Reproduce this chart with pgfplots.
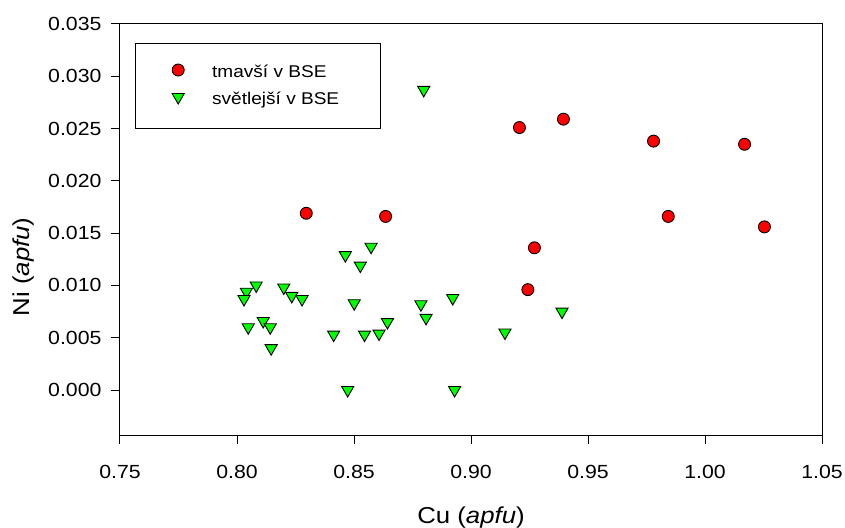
\documentclass[border=0pt]{standalone}
\usepackage{fontspec}
\setmainfont{Liberation Sans}[FakeStretch=1.12]
\usepackage{pgfplots}
\pgfplotsset{compat=1.18}
\definecolor{myred}{RGB}{255,0,0}
\definecolor{mygreen}{RGB}{0,255,0}
\pgfplotsset{mylegimg/.style={legend image code/.code={\path[draw=none,fill=none] (0pt,-1pt) rectangle (77pt,1pt); \draw[##1] plot coordinates {(43pt,2.5pt)};}}}
\begin{document}
\begin{tikzpicture}
\begin{axis}[
  at={(0pt,0pt)}, anchor=south west,
  scale only axis, width=702pt, height=411pt,
  xmin=0.75, xmax=1.05, ymin=-0.0043, ymax=0.035,
  xtick={0.75,0.80,0.85,0.90,0.95,1.00,1.05},
  ytick={0,0.005,0.010,0.015,0.020,0.025,0.030,0.035},
  scaled x ticks=false, scaled y ticks=false,
  xtick pos=bottom, ytick pos=left,
  tick align=outside, major tick length=9pt,
  axis line style={line width=1pt, black},
  every tick/.style={line width=1pt, black},
  /pgf/number format/assume math mode=true,
  tick label style={font=\fontsize{19}{21}\selectfont},
  xticklabel style={/pgf/number format/fixed, /pgf/number format/fixed zerofill, /pgf/number format/precision=2, yshift=-18pt},
  yticklabel style={/pgf/number format/fixed, /pgf/number format/fixed zerofill, /pgf/number format/precision=3, xshift=-6pt},
  every axis x label/.style={at={(axis description cs:0.5,-0.2)}, anchor=center, font=\fontsize{23}{26}\selectfont},
  every axis y label/.style={at={(axis description cs:-0.138,0.409)}, anchor=center, rotate=90, font=\fontsize{23}{26}\selectfont},
  xlabel={Cu (\textit{apfu})},
  ylabel={Ni (\textit{apfu})},
  legend style={at={(axis description cs:0.02137,0.8491)}, anchor=west, draw=none, fill=none, inner sep=0pt, row sep=10pt,
    nodes={inner sep=0pt, text height=13pt, text depth=4pt, font=\fontsize{17}{20}\selectfont}},
  legend cell align=left,
]
\addplot[only marks, mark=*, mark size=6pt, mark options={fill=myred, draw=black, line width=0.9pt}, mylegimg]
coordinates {
(0.8296,0.0169) (0.8635,0.0166) (0.9207,0.0251) (0.9395,0.0259) (0.9780,0.0238)
(1.0169,0.0235) (0.9843,0.0166) (1.0254,0.0156) (0.9271,0.0136) (0.9243,0.0096)
};
\addlegendentry{tmavší v BSE}
\addplot[only marks, mark=triangle*, mark size=7pt, mark options={rotate=180, fill=mygreen, draw=black, line width=0.9pt}, mylegimg]
coordinates {
(0.8798,0.0287) (0.8573,0.0137) (0.8463,0.0129) (0.8527,0.0119) (0.8082,0.0100)
(0.8040,0.0094) (0.8030,0.0087) (0.8200,0.0098) (0.8234,0.0090) (0.8278,0.0087)
(0.8501,0.0083) (0.8786,0.0082) (0.8922,0.0088) (0.9389,0.0075) (0.8808,0.0069)
(0.8643,0.0065) (0.8112,0.0066) (0.8048,0.0060) (0.8142,0.0060) (0.8413,0.0053)
(0.8545,0.0053) (0.8607,0.0054) (0.9145,0.0055) (0.8146,0.0040) (0.8473,0.0000)
(0.8930,0.0000)
};
\addlegendentry{světlejší v BSE}
\draw[line width=1pt, black] (rel axis cs:0.02137,0.95377) rectangle (rel axis cs:0.37108,0.74453);
\end{axis}
\pgfresetboundingbox
\path (-120pt,-92pt) rectangle (725pt,435pt);
\end{tikzpicture}
\end{document}
